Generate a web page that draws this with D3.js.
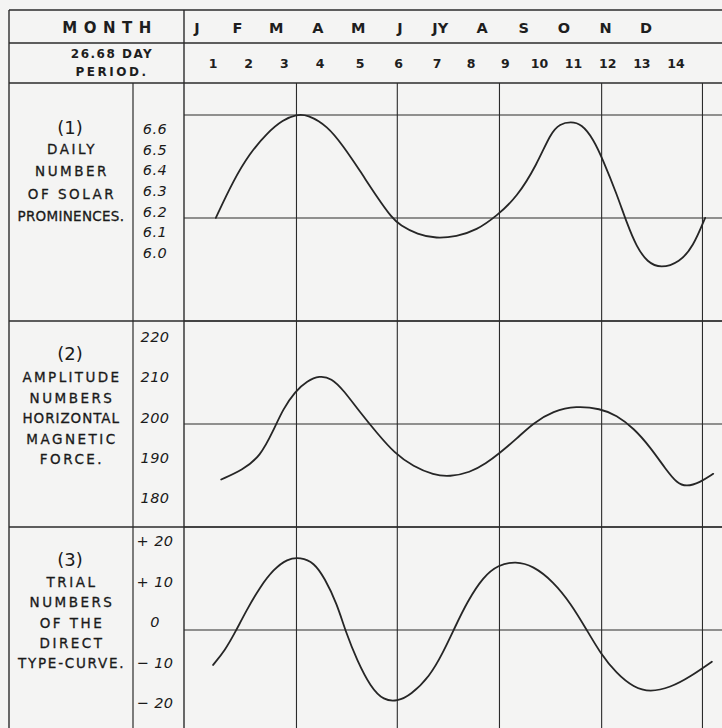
<!DOCTYPE html>
<html>
<head>
<meta charset="utf-8">
<script src="https://cdn.jsdelivr.net/npm/d3@7"></script>
<style>
    body { margin: 0; background: #f4f4f3; }
    svg { display: block; }
</style>
</head>
<body>
<div id="main"></div>
<script>
// header
const months = ["J", "F", "M", "A", "M", "J", "JY", "A", "S", "O", "N", "D"];
const monthDays = [15, 45, 74, 105, 135, 166, 196, 227, 258, 288, 319, 349];
const periods = [1, 2, 3, 4, 5, 6, 7, 8, 9, 10, 11, 12, 13, 14];
const gridDays = [89, 164, 240, 316, 391];

// left hand labels
const titles = ["(1)", "(2)", "(3)"];
const label1 = ["DAILY", "NUMBER", "OF SOLAR", "PROMINENCES."];
const label2 = ["AMPLITUDE", "NUMBERS", "HORIZONTAL", "MAGNETIC", "FORCE."];
const label3 = ["TRIAL", "NUMBERS", "OF THE", "DIRECT", "TYPE-CURVE."];

// tick values
const ticks1 = [6.6, 6.5, 6.4, 6.3, 6.2, 6.1, 6.0];
const ticks2 = [220, 210, 200, 190, 180];
const ticks3 = [20, 10, 0, -10, -20];

// curves: [day of year, value]
const prominences = [
    [29, 6.17], [42, 6.35], [54, 6.48], [67, 6.58], [79, 6.645], [89, 6.67], [97, 6.67],
    [112, 6.615], [124, 6.515], [136, 6.40], [149, 6.27], [160, 6.17], [166, 6.135], [179, 6.09],
    [193, 6.07], [208, 6.08], [223, 6.11], [238, 6.18], [253, 6.27], [268, 6.43], [278, 6.58],
    [285, 6.625], [293, 6.635], [301, 6.625], [310, 6.55], [317, 6.45], [327, 6.29], [335, 6.14],
    [342, 6.03], [350, 5.955], [360, 5.925], [374, 5.955], [384, 6.03], [393, 6.17]
];
const magnetic = [
    [33, 184.6], [49, 187.0], [62, 190.3], [72, 196.9], [79, 202.1], [88, 206.5], [97, 209.1],
    [106, 210.4], [115, 209.8], [124, 206.8], [136, 201.4], [149, 196.1], [162, 191.1],
    [176, 187.8], [191, 185.7], [203, 185.3], [218, 186.3], [230, 188.6], [240, 191.1],
    [253, 194.8], [265, 198.6], [280, 201.6], [297, 202.9], [315, 202.2], [327, 200.6],
    [340, 197.3], [352, 192.7], [364, 187.0], [372, 183.7], [379, 182.8], [389, 183.8], [399, 186.0]
];
const typeCurve = [
    [27, -10.6], [36, -6.9], [43, -2.8], [52, 3.0], [62, 8.7], [72, 13.0], [82, 15.6], [92, 16.0],
    [102, 14.7], [110, 10.8], [119, 4.6], [126, -2.8], [134, -9.4], [144, -16.0], [154, -19.4],
    [164, -19.6], [174, -18.0], [188, -13.5], [198, -7.6], [207, -1.2], [216, 5.0], [228, 11.2],
    [239, 14.1], [252, 15.0], [265, 13.9], [280, 10.0], [293, 4.6], [305, -2.0], [315, -7.7],
    [327, -12.7], [340, -16.2], [352, -17.3], [367, -16.2], [382, -13.5], [398, -9.8]
];

const width = 722;
const height = 728;
const ink = "#2b2b2b";
const frame = {left: 9, top: 10, valueCol: 133, chartLeft: 184, monthRow: 43, headRow: 83};
const labelFont = "'DejaVu Sans', sans-serif";

const x = d3.scaleLinear().domain([15, 349]).range([197, 646]);

// the period numbers are lettered by hand, a little wider in the middle of the year
const xPeriod = d3.scaleLinear()
    .domain([1, 4, 5, 7, 14])
    .range([213, 320, 360, 437, 676]);

const panels = [
    {top: 83, bottom: 321, title: titles[0], lines: label1, titleY: 127, lineY: 149, step: 22.3, maxW: 109,
        y: d3.scaleLinear().domain([6.0, 6.6]).range([253, 129]), ticks: ticks1,
        fmt: d3.format(".1f"), data: prominences},
    {top: 321, bottom: 527, title: titles[1], lines: label2, titleY: 353, lineY: 377, step: 20.6, maxW: 99,
        y: d3.scaleLinear().domain([180, 220]).range([498, 337]), ticks: ticks2,
        fmt: d3.format("d"), data: magnetic},
    {top: 527, bottom: 728, title: titles[2], lines: label3, titleY: 559, lineY: 582, step: 20.3, maxW: 108,
        y: d3.scaleLinear().domain([-20, 20]).range([703, 541]), ticks: ticks3,
        fmt: d => d > 0 ? "+ " + d : d < 0 ? "\u2212 " + (-d) : "0", data: typeCurve}
];

const svg = d3.create("svg")
    .attr("width", width)
    .attr("height", height)
    .attr("viewBox", [0, 0, width, height]);

svg.append("rect")
    .attr("width", width)
    .attr("height", height)
    .attr("fill", "#f4f4f3");

// ruled frame
const rules = svg.append("g").attr("stroke", ink).attr("fill", "none");

// square grid of the chart area
const gridY = d3.range(115, height, 103);
rules.append("g")
    .attr("stroke-width", 1.1)
    .selectAll("line")
    .data(gridY)
    .join("line")
    .attr("x1", frame.chartLeft)
    .attr("x2", width)
    .attr("y1", d => d)
    .attr("y2", d => d);

rules.append("g")
    .attr("stroke-width", 1.1)
    .selectAll("line")
    .data(gridDays)
    .join("line")
    .attr("x1", d => x(d))
    .attr("x2", d => x(d))
    .attr("y1", frame.headRow)
    .attr("y2", height);

// full width rules
rules.append("g")
    .attr("stroke-width", 1.4)
    .selectAll("line")
    .data([frame.top, frame.monthRow, frame.headRow, panels[1].top, panels[2].top])
    .join("line")
    .attr("x1", frame.left)
    .attr("x2", width)
    .attr("y1", d => d)
    .attr("y2", d => d);

rules.append("line")
    .attr("stroke-width", 1.4)
    .attr("x1", frame.left).attr("x2", frame.left)
    .attr("y1", frame.top).attr("y2", height);
rules.append("line")
    .attr("stroke-width", 1.4)
    .attr("x1", frame.chartLeft).attr("x2", frame.chartLeft)
    .attr("y1", frame.top).attr("y2", height);
rules.append("line")
    .attr("stroke-width", 1.2)
    .attr("x1", frame.valueCol).attr("x2", frame.valueCol)
    .attr("y1", frame.headRow).attr("y2", height);

// header text
const head = svg.append("g")
    .attr("fill", "#1e1e1e")
    .attr("font-family", labelFont)
    .attr("text-anchor", "middle")
    .attr("dominant-baseline", "central");

head.append("text")
    .attr("x", 110)
    .attr("y", 28)
    .attr("font-size", 15)
    .attr("font-weight", "bold")
    .attr("letter-spacing", 6.5)
    .text("MONTH");

head.append("text")
    .attr("x", 112)
    .attr("y", 54)
    .attr("font-size", 12)
    .attr("font-weight", "bold")
    .attr("letter-spacing", 1.5)
    .text("26.68 DAY");

head.append("text")
    .attr("x", 112)
    .attr("y", 72)
    .attr("font-size", 12)
    .attr("font-weight", "bold")
    .attr("letter-spacing", 2.5)
    .text("PERIOD.");

head.append("g")
    .selectAll("text")
    .data(months)
    .join("text")
    .attr("x", (d, i) => x(monthDays[i]))
    .attr("y", 28)
    .attr("font-size", 14.5)
    .attr("font-weight", "bold")
    .text(d => d);

head.append("g")
    .selectAll("text")
    .data(periods)
    .join("text")
    .attr("x", d => xPeriod(d))
    .attr("y", 63)
    .attr("font-size", 12.5)
    .attr("font-weight", "bold")
    .text(d => d);

const line = d3.line()
    .curve(d3.curveBasis);

panels.forEach(p => {
    const g = svg.append("g")
        .attr("fill", "#1a1a1a")
        .attr("font-family", labelFont)
        .attr("text-anchor", "middle")
        .attr("dominant-baseline", "central");

    g.append("text")
        .attr("x", 70)
        .attr("y", p.titleY)
        .attr("font-size", 18)
        .text(p.title);

    g.append("g")
        .selectAll("text")
        .data(p.lines)
        .join("text")
        .attr("x", 72)
        .attr("y", (d, i) => p.lineY + i * p.step)
        .attr("font-size", 13.5)
        .attr("letter-spacing", 2.5)
        .attr("stroke", "#1a1a1a")
        .attr("stroke-width", 0.3)
        .text(d => d);

    // value scale
    svg.append("g")
        .attr("transform", `translate(155,0)`)
        .call(d3.axisLeft(p.y).tickValues(p.ticks).tickFormat(p.fmt).tickSize(0).tickPadding(0))
        .call(g => g.select(".domain").remove())
        .call(g => g.selectAll("text")
            .attr("x", 0)
            .attr("text-anchor", "middle")
            .attr("fill", "#1a1a1a")
            .attr("font-family", labelFont)
            .attr("font-style", "italic")
            .attr("font-size", 14.5)
            .attr("letter-spacing", 0.5));

    line.x(d => x(d[0])).y(d => p.y(d[1]));

    svg.append("path")
        .datum(p.data)
        .attr("fill", "none")
        .attr("stroke", "#262626")
        .attr("stroke-width", 1.8)
        .attr("stroke-linejoin", "round")
        .attr("stroke-linecap", "round")
        .attr("d", line);

    p.group = g;
});

d3.select("#main").append(() => svg.node());

// hand lettering squeezes the long words into the column
panels.forEach(p => {
    p.group.selectAll("text").each(function () {
        if (this.getComputedTextLength() > p.maxW) {
            d3.select(this)
                .attr("textLength", p.maxW)
                .attr("lengthAdjust", "spacing");
        }
    });
});
</script>
</body>
</html>
